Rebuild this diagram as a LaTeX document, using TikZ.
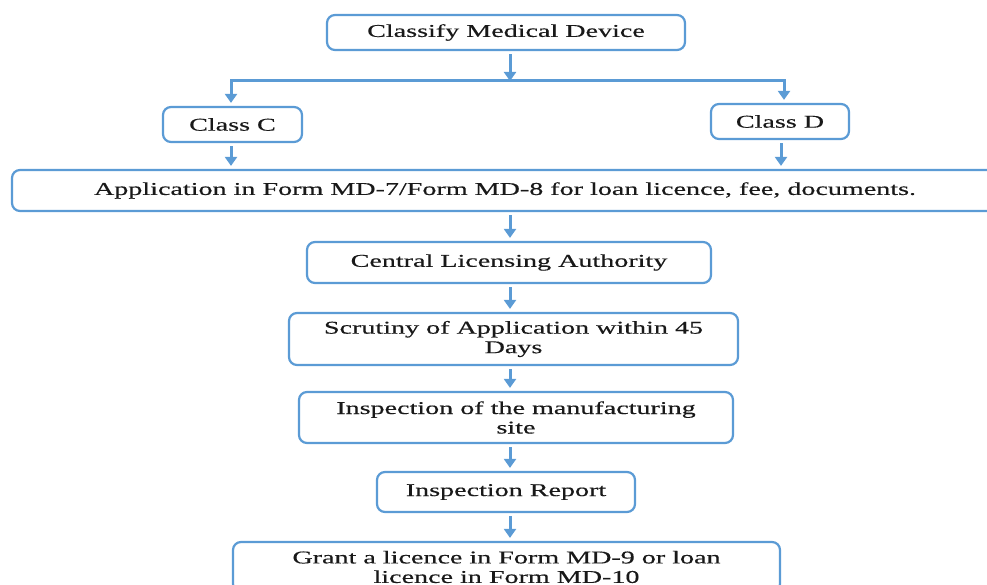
\documentclass[tikz,border=0pt]{standalone}
\usepackage{fontspec}
\setmainfont[FakeStretch=1.56,FakeBold=0.4]{Liberation Serif}
\usetikzlibrary{arrows.meta,calc}
\definecolor{flowblue}{HTML}{5B9BD5}
\tikzset{
  box/.style={draw=flowblue, line width=2.2pt, rounded corners=8pt, fill=white,
    align=center, inner sep=0pt, font=\fontsize{18}{19.5}\selectfont, text=black!90},
  flow/.style={draw=flowblue, line width=3pt,
    -{Triangle[width=12pt,length=9pt]}, shorten >=3pt, shorten <=3pt},
  link/.style={draw=flowblue, line width=3pt}
}
\begin{document}
\begin{tikzpicture}[x=1pt,y=-1pt]
\useasboundingbox (0,0) rectangle (987,585);
\clip (0,0) rectangle (987,585);

% process boxes
\node[box, minimum width=358pt, minimum height=35pt] (classify) at (506,32.5) {Classify Medical Device};
\node[box, minimum width=139pt, minimum height=35pt] (classC) at (232.5,124.5) {Class C};
\node[box, minimum width=138pt, minimum height=35pt] (classD) at (780,121.5) {Class D};
\node[box, minimum width=986pt, minimum height=41pt] (app) at (505,190.5)
  {Application in Form MD-7/Form MD-8 for loan licence, fee, documents.};
\node[box, minimum width=404pt, minimum height=41pt] (cla) at (509,262.5) {Central Licensing Authority};
\node[box, minimum width=449pt, minimum height=52pt] (scrutiny) at (513.5,339)
  {Scrutiny of Application within 45\\Days};
\node[box, minimum width=434pt, minimum height=51pt] (inspect) at (516,417.5)
  {Inspection of the manufacturing\\site};
\node[box, minimum width=258pt, minimum height=40pt] (report) at (506,492) {Inspection Report};
\node[box, minimum width=547pt, minimum height=50pt] (grant) at (506.5,567)
  {Grant a licence in Form MD-9 or loan\\licence in Form MD-10};

% branching below the classification
\coordinate (j) at (510,81);
\coordinate (jC) at (231,81);
\coordinate (jD) at (784,81);
\draw[flow, shorten >=0pt] (classify.south -| j) -- (j);
\draw[link] (jC) -- (jD);
\draw[flow, shorten <=-1.5pt] (jC) -- (jC |- classC.north);
\draw[flow, shorten <=-1.5pt] (jD) -- (jD |- classD.north);

% into the application
\draw[flow] (jC |- classC.south) -- (jC |- app.north);
\draw[flow] ([xshift=1pt]classD.south) -- ([xshift=1pt]classD.south |- app.north);

% main chain
\draw[flow] (app.south -| j) -- (cla.north -| j);
\draw[flow] (cla.south -| j) -- (scrutiny.north -| j);
\draw[flow] (scrutiny.south -| j) -- (inspect.north -| j);
\draw[flow] (inspect.south -| j) -- (report.north -| j);
\draw[flow] (report.south -| j) -- (grant.north -| j);
\end{tikzpicture}
\end{document}
